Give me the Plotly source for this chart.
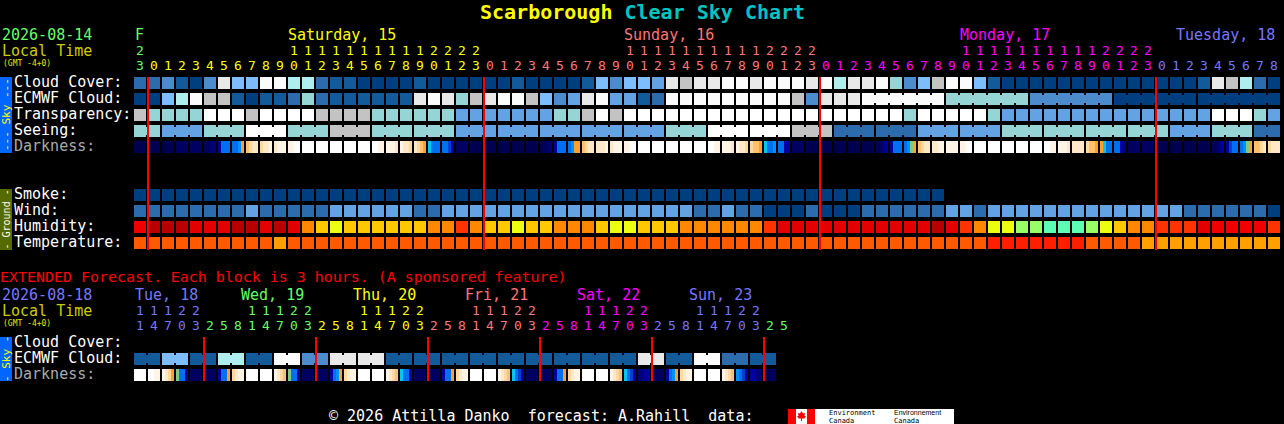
import plotly.graph_objects as go

# ---------- data ----------
SKY_COLORS = ["#003F7F", "#135A9A", "#2C6CAC", "#4C8CCC", "#63A3E3", "#7DBDFD",
              "#AEEEEE", "#95D5D5", "#C3C3C3", "#E9E9E9", "#FBFBFB", "#FFFFFF"]
HUM_COLORS = ["#B80000", "#E30000", "#F00000", "#FF3300", "#FF8800", "#FFC800",
              "#EBFF0F", "#99FF66", "#5CFFB3"]
TEMP_COLORS = ["#FF5A00", "#FFA000", "#FF1F00"]
DARK_COLORS = ["#000050", "#000060", "#000078", "#0000A0", "#0040D0", "#0070F0",
               "#0090FF", "#00C8F0", "#80C880", "#FFA028", "#FFC070", "#FFD8A0",
               "#FFE8C8", "#FFF4E6", "#FFFFFF"]

cloud = [2, 2, 3, 1, 0, 3, 9, 5, 5, 10, 10, 6, 6, 2, 1, 1, 0, 0, 0, 0, 1,
         0, 0, 0, 0, 0, 0, 1, 0, 0, 0, 0, 1, 5, 3, 5, 5, 4, 9, 8, 9, 9, 10, 10, 9, 10, 10, 10, 9, 10, 6, 9,
         9, 10, 7, 3, 5, 8, 10, 10, 5, 1, 0, 0, 0, 0, 0, 0, 0, 0, 0, 0, 0, 0, 0, 0, 1, 9, 8, 6, 2, 0]
ecmwf = [0, 0, 5, 6, 10, 8, 8, 1, 0, 1, 1, 2, 7, 2, 1, 1, 1, 1, 1, 1, 9,
         10, 9, 7, 8, 9, 10, 10, 8, 5, 3, 4, 9, 10, 4, 4, 1, 2, 10, 10, 10, 10, 10, 10, 10, 10, 10, 8, 3, 9, 9, 9,
         10, 7, 3, 0, 0]
ecmwf_spans = [1] * 52 + [6] * 5
transparency = [8, 7, 7, 7, 7, 11, 11, 11, 8, 11, 11, 11, 11, 8, 8, 8, 8, 7, 7, 7, 7,
                7, 7, 4, 4, 4, 4, 4, 4, 4, 7, 7, 8, 11, 8, 11, 11, 11, 11, 11, 11, 11, 11, 11, 11, 11, 11, 11, 11, 11, 11, 11,
                11, 11, 11, 7, 11, 11, 11, 11, 11, 7, 4, 4, 4, 4, 4, 4, 4, 4, 4, 4, 4, 4, 4, 4, 4, 11, 11, 11, 7, 4]
seeing = [7, 4, 7, 11, 7, 8, 7, 7, 4, 4, 4, 4, 4, 7, 11, 11, 8, 2, 2, 4, 4, 7, 7, 7, 7, 4, 7, 2]
seeing_spans = [2] + [3] * 26 + [2]
darkness = [0,0,0,0, 0,0,0,0, 0,0,0,0, 1,1,1,1, 1,1,1,1, 1,1,2,2, 3,5,5,5, 5,5,6,9,
            10,11,12,12, 11,12,12,13, 12,13,13,13, 13,13,14,14, 14,14,14,14, 14,14,14,14, 14,14,14,14,
            14,14,14,14, 14,14,14,14, 14,14,13,13, 13,13,13,12, 13,12,12,11, 12,11,10,9, 7,5,5,5, 5,5,4,3,
            1,1,1,1, 0,0,0,0, 0,0,0,0, 0,0,0,0, 0,0,0,0, 0,0,0,0, 0,1,1,2, 3,5,5,5, 5,6,9,9,
            10,11,12,12, 12,12,12,13, 12,13,13,13, 13,13,14,14, 14,14,14,14, 14,14,14,14, 14,14,14,14,
            14,14,14,14, 14,14,14,14, 14,14,13,13, 13,13,13,12, 13,12,12,11, 11,10,10,9, 7,5,5,6, 5,5,3,3,
            1,1,1,1, 0,0,0,0, 0,0,0,0, 0,0,0,0, 0,0,0,0, 0,0,0,0, 1,1,2,3, 3,5,5,5, 5,6,8,9,
            10,11,12,12, 12,12,13,13, 13,13,13,13, 13,13,14,14, 14,14,14,14, 14,14,14,14, 14,14,14,14,
            14,14,14,14, 14,14,14,14, 14,14,13,13, 13,13,13,12, 12,12,12,12, 11,10,10,9, 9,7,5,5, 5,5,3,2,
            1,1,1,1, 1,1,1,1, 0,0,0,0, 0,0,0,0, 0,0,0,0, 0,0,0,0, 1,1,2,3, 3,4,5,5, 5,6,8,9,
            10,10,11,12, 11,12,12,12]
smoke = [0] * 58
wind = [2, 2, 2, 2, 2, 2, 2, 2, 4, 2, 2, 2, 2, 2, 4, 4, 4, 4, 4, 4, 2,
        2, 4, 4, 4, 4, 4, 4, 4, 4, 4, 4, 4, 4, 4, 4, 4, 4, 4, 4, 2, 2, 4, 2, 2, 0, 0, 0, 2, 0, 0, 0,
        2, 2, 2, 2, 2, 2, 4, 4, 2, 4, 4, 4, 4, 4, 4, 4, 4, 4, 4, 4, 4, 4, 4, 2, 2, 2, 2, 2, 2, 0]
humidity = [2, 0, 0, 0, 1, 1, 1, 0, 0, 1, 0, 1, 4, 5, 6, 5, 5, 5, 5, 5, 5,
            4, 4, 3, 4, 5, 5, 6, 5, 5, 4, 4, 4, 5, 6, 6, 5, 5, 5, 4, 4, 4, 4, 4, 4, 3, 1, 1, 1, 1, 1, 1,
            1, 1, 1, 1, 1, 0, 1, 3, 4, 6, 6, 7, 7, 8, 8, 8, 7, 6, 5, 4, 4, 3, 3, 3, 1, 2, 2, 2, 2, 3]
temperature = [0, 0, 0, 0, 0, 0, 0, 0, 0, 0, 1, 0, 0, 0, 0, 0, 0, 0, 0, 0, 0,
               0, 0, 0, 0, 0, 0, 0, 0, 0, 0, 0, 0, 0, 0, 0, 0, 0, 0, 0, 0, 0, 0, 0, 0, 0, 0, 0, 0, 0, 0, 0,
               0, 0, 0, 0, 0, 0, 0, 0, 0, 2, 2, 2, 2, 2, 2, 2, 0, 0, 0, 0, 1, 1, 1, 1, 1, 1, 1, 1, 1, 1]

ext_ecmwf = [1, 5, 1, 6, 1, 10, 3, 9, 9, 1, 1, 1, 1, 1, 1, 1, 1, 1, 9, 1, 10, 2, 1]
ext_spans = [2] * 23
ext_darkness = [14,14,14,14, 14,14,13,13, 13,12,11,9, 8,5,5,3, 1,1,1,1, 1,1,1,1, 3,5,5,9, 11,12,13,13,
                14,14,14,14, 14,14,14,14, 13,12,11,10, 8,5,5,3, 1,1,1,1, 1,1,1,1, 3,5,6,9, 11,12,13,13,
                14,14,14,14, 14,14,14,14, 13,12,11,10, 7,5,5,3, 1,1,1,1, 1,1,1,1, 3,5,5,9, 11,12,13,13,
                14,14,14,14, 14,14,14,14, 13,12,11,10, 7,5,4,3, 1,1,1,1, 1,1,1,1, 3,5,5,9, 11,12,13,13,
                14,14,14,14, 14,14,14,14, 13,12,11,10, 7,5,4,3, 2,2,3,3, 1,1,1,1, 3,5,6,9, 11,12,13,13,
                14,14,14,14, 14,14,14,14, 13,12,11,10, 6,5,4,3, 3,3,2,2, 0,0,1,1]

GREEN, YELLOW, SALMON, MAGENTA, BLUE = "#66FF66", "#FFFF00", "#FF7777", "#FF00FF", "#7777FF"
main_hours = [23] + list(range(24)) * 3 + list(range(9))
main_hour_colors = [GREEN] + [YELLOW] * 24 + [SALMON] * 24 + [MAGENTA] * 24 + [BLUE] * 9
ext_hours = [11, 14, 17, 20, 23,
             2, 5, 8, 11, 14, 17, 20, 23,
             2, 5, 8, 11, 14, 17, 20, 23,
             2, 5, 8, 11, 14, 17, 20, 23,
             2, 5, 8, 11, 14, 17, 20, 23,
             2, 5, 8, 11, 14, 17, 20, 23,
             2, 5]
ext_hour_colors = [BLUE] * 5 + [GREEN] * 8 + [YELLOW] * 8 + [SALMON] * 8 + [MAGENTA] * 8 + [BLUE] * 8 + [GREEN] * 2
main_midnights = [1, 25, 49, 73]
ext_midnights = [5, 13, 21, 29, 37, 45]

# ---------- layout constants ----------
X0, PITCH, GAP = 140, 14, 2
ROW, RGAP = 16, 4
MONO = "DejaVu Sans Mono"
DIGIT_SIZE = 13


def scale(colors):
    n = len(colors)
    out = []
    for i, c in enumerate(colors):
        out += [[i / n, c], [(i + 1) / n, c]]
    return out


def expand(values, spans):
    out = []
    for v, s in zip(values, spans):
        out += [v] * s
    return out


fig = go.Figure()


def row(values, colors, y):
    fig.add_trace(go.Heatmap(z=[values], x0=X0, dx=PITCH, y0=y, dy=ROW, xgap=GAP, ygap=RGAP,
                             zmin=-0.5, zmax=len(colors) - 0.5, colorscale=scale(colors),
                             showscale=False, hoverinfo="skip"))


def links(values, spans, colors, y):
    z = []
    for v, s in zip(values, spans):
        z += [v] * (s - 1) + [None]
    fig.add_trace(go.Heatmap(z=[z], x0=X0 + PITCH / 2, dx=PITCH, y0=y, dy=ROW,
                             xgap=PITCH - GAP, ygap=ROW - 8,
                             zmin=-0.5, zmax=len(colors) - 0.5, colorscale=scale(colors),
                             showscale=False, hoverinfo="skip"))


def dark_row(samples, y):
    n = len(samples) // 4
    edges, z = [], []
    for c in range(n):
        left = X0 - 6 + PITCH * c
        edges += [left, left + 3, left + 6, left + 9, left + 12]
        z += samples[4 * c:4 * c + 4] + [None]
    edges.append(X0 - 6 + PITCH * n)
    fig.add_trace(go.Heatmap(z=[z], x=edges, y=[y - 6, y + 6],
                             zmin=-0.5, zmax=len(DARK_COLORS) - 0.5, colorscale=scale(DARK_COLORS),
                             showscale=False, hoverinfo="skip"))


row(cloud, SKY_COLORS, 83)
row(expand(ecmwf, ecmwf_spans), SKY_COLORS, 99)
links(ecmwf, ecmwf_spans, SKY_COLORS, 99)
row(transparency, SKY_COLORS, 115)
row(expand(seeing, seeing_spans), SKY_COLORS, 131)
links(seeing, seeing_spans, SKY_COLORS, 131)
dark_row(darkness, 147)
row(smoke, SKY_COLORS, 195)
row(wind, SKY_COLORS, 211)
row(humidity, HUM_COLORS, 227)
row(temperature, TEMP_COLORS, 243)

row(expand(ext_ecmwf, ext_spans), SKY_COLORS, 359)
links(ext_ecmwf, ext_spans, SKY_COLORS, 359)
dark_row(ext_darkness, 375)

# midnight lines
lx, ly = [], []
for c in main_midnights:
    px = X0 - 6 + PITCH * c
    lx += [px, px, None]
    ly += [77, 250, None]
for c in ext_midnights:
    px = X0 - 6 + PITCH * c
    lx += [px, px, None]
    ly += [337, 381, None]
fig.add_trace(go.Scatter(x=lx, y=ly, mode="lines", line=dict(color="#FF0000", width=2), hoverinfo="skip"))


def digits(hours, colors, y_tens, y_ones):
    xs = [X0 + PITCH * i for i in range(len(hours))]
    fig.add_trace(go.Scatter(x=xs, y=[y_ones] * len(hours), mode="text", text=[str(h % 10) for h in hours],
                             textfont=dict(family=MONO, size=DIGIT_SIZE, color=colors), hoverinfo="skip"))
    keep = [i for i, h in enumerate(hours) if h >= 10]
    fig.add_trace(go.Scatter(x=[xs[i] for i in keep], y=[y_tens] * len(keep), mode="text",
                             text=[str(hours[i] // 10) for i in keep],
                             textfont=dict(family=MONO, size=DIGIT_SIZE, color=[colors[i] for i in keep]),
                             hoverinfo="skip"))


digits(main_hours, main_hour_colors, 51.5, 66.5)
digits(ext_hours, ext_hour_colors, 311.5, 326.5)

ann = []


def label(x, y, text, color="#FFFFFF", size=15, family=MONO, anchor="left", **kw):
    ann.append(dict(x=x, y=y, xref="x", yref="y", text=text, showarrow=False, xanchor=anchor, yanchor="middle",
                    font=dict(family=family, size=size, color=color), align="left",
                    borderpad=0, borderwidth=0, **kw))


label(642, 12, '<b><span style="color:#FFFF00">Scarborough</span> Clear Sky Chart</b>',
      color="#00C4C4", size=20, anchor="center")

label(2, 35, "2026-08-14", GREEN)
label(2, 50.5, "Local Time", "#CCCC00")
label(3, 63, "(GMT -4+0)", "#E6E600", size=8)
label(135, 35, "F", GREEN)
label(288, 35, "Saturday, 15", YELLOW)
label(624, 35, "Sunday, 16", SALMON)
label(960, 35, "Monday, 17", MAGENTA)
label(1176, 35, "Tuesday, 18", BLUE)

for y, t, c in [(82, "Cloud Cover:", "#FFFFFF"), (98, "ECMWF Cloud:", "#FFFFFF"), (114, "Transparency:", "#FFFFFF"),
                (130, "Seeing:", "#FFFFFF"), (146, "Darkness:", "#AAAAAA"), (194, "Smoke:", "#FFFFFF"),
                (210, "Wind:", "#FFFFFF"), (226, "Humidity:", "#FFFFFF"), (242, "Temperature:", "#FFFFFF"),
                (342, "Cloud Cover:", "#FFFFFF"), (358, "ECMWF Cloud:", "#FFFFFF"), (374, "Darkness:", "#AAAAAA")]:
    label(14, y, t, c)

label(0, 276.5, "EXTENDED Forecast. Each block is 3 hours. (A sponsored feature)", "#FF0000", size=14.95)
label(2, 295, "2026-08-18", BLUE)
label(2, 310.5, "Local Time", "#CCCC00")
label(3, 323, "(GMT -4+0)", "#E6E600", size=8)
label(135, 295, "Tue, 18", BLUE)
label(241, 295, "Wed, 19", GREEN)
label(353, 295, "Thu, 20", YELLOW)
label(465, 295, "Fri, 21", SALMON)
label(577, 295, "Sat, 22", MAGENTA)
label(689, 295, "Sun, 23", BLUE)

label(6, 115, "--- Sky ---", "#FFFF00", size=11, anchor="center", textangle=-90)
label(6, 219.5, "- Ground -", "#FFFFFF", size=10, anchor="center", textangle=-90)
label(6, 359, "- Sky -", "#FFFF00", size=11, anchor="center", textangle=-90)

label(329, 415.5, "© 2026 Attilla Danko  forecast: A.Rahill  data:", "#FFFFFF")
label(829, 412.5, "Environment", "#000000", size=7, family="DejaVu Sans Mono")
label(829, 420.5, "Canada", "#000000", size=7, family="DejaVu Sans Mono")
label(894, 412.5, "Environnement", "#000000", size=7, family="Liberation Sans")
label(894, 420.5, "Canada", "#000000", size=7, family="DejaVu Sans Mono")


def rect(x0, y0, x1, y1, color):
    return dict(type="rect", xref="x", yref="y", x0=x0, y0=y0, x1=x1, y1=y1,
                fillcolor=color, line=dict(width=0), layer="below")


shapes = [rect(0, 77, 12, 153, "#0066FF"), rect(0, 189, 12, 250, "#556B00"), rect(0, 337, 12, 381, "#0066FF"),
          rect(788, 409, 954, 424, "#FFFFFF"), rect(788, 409, 796, 424, "#FF0000"), rect(807, 409, 815, 424, "#FF0000"),
          dict(type="path", xref="x", yref="y", layer="below", fillcolor="#FF0000", line=dict(width=0),
               path="M801.5 411 L803 413.5 L805 413 L804.5 416 L806 416 L804.5 418.5 L802 418.5 L802 421 L801 421 "
                    "L801 418.5 L798.5 418.5 L797 416 L798.5 416 L798 413 L800 413.5 Z")]

fig.update_layout(width=1284, height=424, margin=dict(l=0, r=0, t=0, b=0, pad=0), autosize=False,
                  paper_bgcolor="#000000", plot_bgcolor="#000000", showlegend=False,
                  xaxis=dict(range=[0, 1284], visible=False, fixedrange=True),
                  yaxis=dict(range=[424, 0], visible=False, fixedrange=True),
                  annotations=ann, shapes=shapes)

fig.write_html("out.html", config={"displayModeBar": False},
               post_script="document.body.style.margin='0';document.body.style.background='#000';document.body.style.overflow='hidden';")
